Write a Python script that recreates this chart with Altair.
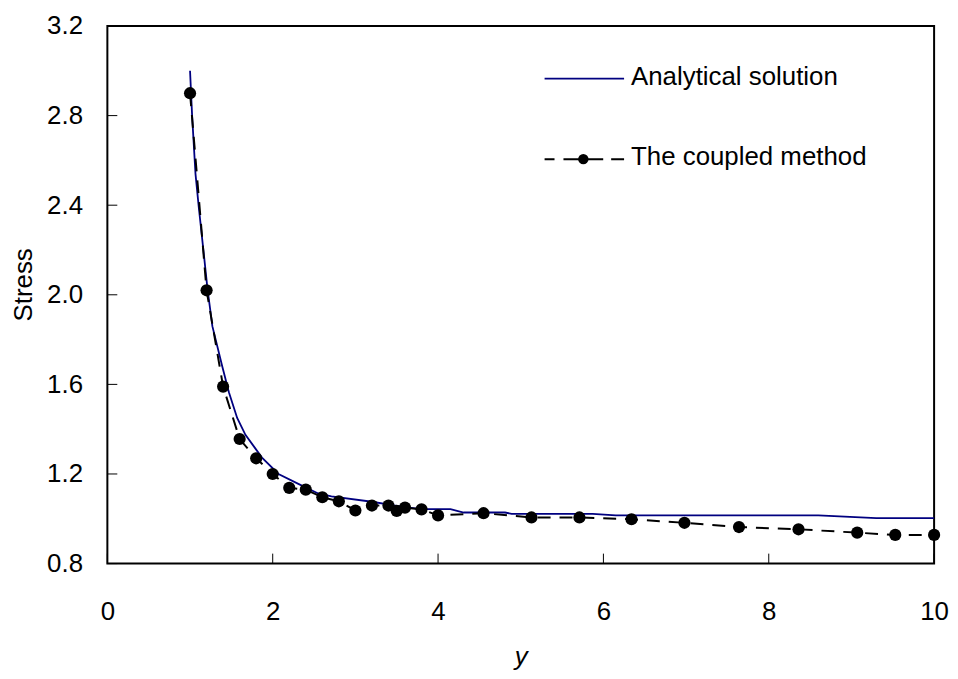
import altair as alt
import pandas as pd

# ---- data ----
analytical_pos = [1.0, 1.025, 1.066, 1.106, 1.17, 1.21, 1.27, 1.39, 1.47, 1.57, 1.67, 1.87,
                  2.07, 2.31, 2.55, 2.71, 3.2, 3.5, 3.79, 4.15, 4.31, 4.81, 4.89, 5.87, 6.15,
                  8.6, 9.3, 10.0]
analytical_stress = [3.0, 2.80, 2.54, 2.39, 2.17, 2.03, 1.86, 1.68, 1.565, 1.45, 1.375, 1.273,
                     1.20, 1.156, 1.113, 1.10, 1.076, 1.058, 1.043, 1.043, 1.028, 1.028, 1.022,
                     1.022, 1.015, 1.015, 1.003, 1.003]

coupled_pos = [1.0, 1.2, 1.4, 1.6, 1.8, 2.0, 2.2, 2.4, 2.6, 2.8, 3.0, 3.2, 3.4, 3.5, 3.6, 3.8,
               4.0, 4.55, 5.13, 5.71, 6.34, 6.98, 7.64, 8.36, 9.07, 9.53, 10.0]
coupled_stress = [2.90, 2.02, 1.59, 1.356, 1.27, 1.20, 1.138, 1.13, 1.096, 1.078, 1.037, 1.059,
                  1.059, 1.035, 1.05, 1.042, 1.015, 1.025, 1.006, 1.006, 0.998, 0.982, 0.963,
                  0.953, 0.938, 0.928, 0.928]

x_ticks = [0, 2, 4, 6, 8, 10]
y_ticks = [0.8, 1.2, 1.6, 2.0, 2.4, 2.8, 3.2]
series_names = ["Analytical solution", "The coupled method"]

# ---- layout / style ----
W, H = 832, 541
TOP = 16
FONT = "Liberation Sans"
FS = 26
NAVY = "#000080"

df_a = pd.DataFrame({"pos": analytical_pos, "stress": analytical_stress})
df_c = pd.DataFrame({"pos": coupled_pos, "stress": coupled_stress})
df_xt = pd.DataFrame({"pos": x_ticks})
df_yt = pd.DataFrame({"stress": y_ticks})
df_one = pd.DataFrame({"k": [0]})

xs = alt.Scale(domain=[0, 10], nice=False, zero=False)
ys = alt.Scale(domain=[0.8, 3.2], nice=False, zero=False)

x_axis = alt.Axis(values=x_ticks, format="d", title="y", titleFontStyle="italic",
                  titleFont=FONT, titleFontSize=FS, titleFontWeight="normal", titleColor="black",
                  titleX=W / 2, titleY=102, titleBaseline="alphabetic",
                  labelFont=FONT, labelFontSize=FS, labelColor="black", labelPadding=35,
                  labelFlush=False, labelOverlap=False,
                  ticks=False, tickSize=0, domain=False, grid=False)
y_axis = alt.Axis(values=y_ticks, format=".1f", title="Stress",
                  titleFont=FONT, titleFontSize=FS, titleFontWeight="normal", titleColor="black",
                  titleX=-76, titleY=284 - 8 - TOP, titleAngle=270, titleBaseline="alphabetic",
                  titleAlign="center",
                  labelFont=FONT, labelFontSize=FS, labelColor="black", labelPadding=25,
                  labelFlush=False, labelOverlap=False,
                  ticks=False, tickSize=0, domain=False, grid=False)

X = alt.X("pos:Q", scale=xs, axis=x_axis)
Y = alt.Y("stress:Q", scale=ys, axis=y_axis)

analytical = alt.Chart(df_a).mark_line(color=NAVY, strokeWidth=1.8).encode(
    x=X, y=Y, order="pos:Q")

coupled_line = alt.Chart(df_c).mark_line(color="black", strokeWidth=2, strokeDash=[13, 9]).encode(
    x=X, y=Y, order="pos:Q")
coupled_pts = alt.Chart(df_c).mark_circle(color="black", size=150, opacity=1).encode(x=X, y=Y)

# inward ticks
xticks = alt.Chart(df_xt).mark_rule(color="black", strokeWidth=1).encode(
    x=X, y=alt.value(H), y2=alt.value(H - 10))
yticks = alt.Chart(df_yt).mark_rule(color="black", strokeWidth=1).encode(
    y=Y, x=alt.value(0), x2=alt.value(10))

# legend (pixel positions relative to the plot area; page y minus 8 minus TOP)
def py(page_y):
    return page_y - 8 - TOP

leg_a_line = alt.Chart(df_one).mark_rule(color=NAVY, strokeWidth=1.8).encode(
    x=alt.value(440), x2=alt.value(520), y=alt.value(py(77)))
leg_a_text = alt.Chart(df_one).mark_text(text=series_names[0], font=FONT, fontSize=FS,
                                         align="left", baseline="alphabetic", color="black").encode(
    x=alt.value(527), y=alt.value(py(83)))
leg_c_line = alt.Chart(df_one).mark_rule(color="black", strokeWidth=2,
                                         strokeDash=[10, 9, 40, 8, 13]).encode(
    x=alt.value(440), x2=alt.value(520), y=alt.value(py(158)))
leg_c_pt = alt.Chart(df_one).mark_circle(color="black", size=110, opacity=1).encode(
    x=alt.value(479), y=alt.value(py(158)))
leg_c_text = alt.Chart(df_one).mark_text(text=series_names[1], font=FONT, fontSize=FS,
                                         align="left", baseline="alphabetic", color="black").encode(
    x=alt.value(527), y=alt.value(py(164)))

chart = alt.layer(
    analytical, coupled_line, coupled_pts, xticks, yticks,
    leg_a_line, leg_a_text, leg_c_line, leg_c_pt, leg_c_text,
).properties(
    width=W, height=H,
    padding={"left": 100, "top": TOP, "right": 16, "bottom": 107},
    autosize=alt.AutoSizeParams(type="none"),
    background="white",
).configure_view(stroke="black", strokeWidth=2)

chart.save("out.html", embed_options={"renderer": "svg", "actions": False})
